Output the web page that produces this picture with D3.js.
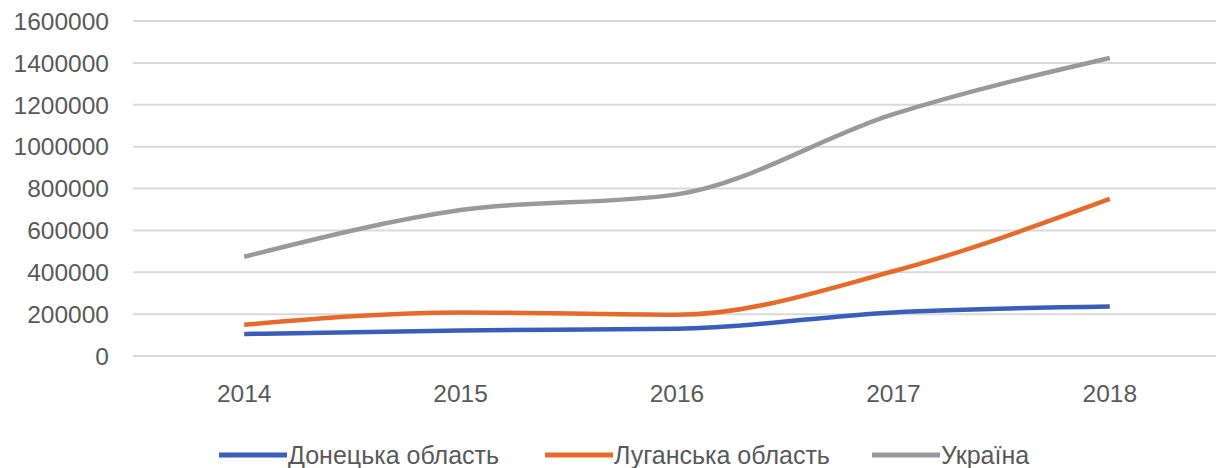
<!DOCTYPE html>
<html>
<head>
<meta charset="utf-8">
<script src="https://cdn.jsdelivr.net/npm/d3@7"></script>
<style>
  body { margin: 0; background: #fff; }
  text { font-family: "Liberation Sans", Arial, sans-serif; fill: #595959; }
</style>
</head>
<body>
<script>
const width = 1216;
const height = 468;

// data
const years = ['2014', '2015', '2016', '2017', '2018'];
const donetsk = [105000, 122000, 130000, 208000, 236000];
const luhansk = [149000, 208000, 197000, 405000, 750000];
const ukraine = [474000, 697000, 772000, 1155000, 1423000];
const yTicks = [0, 200000, 400000, 600000, 800000, 1000000, 1200000, 1400000, 1600000];

const series = [
  { name: 'Донецька область', values: donetsk, color: '#3a5ebc' },
  { name: 'Луганська область', values: luhansk, color: '#e86a2a' },
  { name: 'Україна', values: ukraine, color: '#999999' }
];

const svg = d3.select('body').append('svg')
  .attr('width', width)
  .attr('height', height);

const x = d3.scalePoint()
  .domain(years)
  .range([136, 1218])
  .padding(0.5);

const y = d3.scaleLinear()
  .domain([0, 1600000])
  .range([356, 21]);

// gridlines
svg.append('g')
  .selectAll('line')
  .data(yTicks)
  .enter().append('line')
    .attr('x1', 133)
    .attr('x2', width)
    .attr('y1', d => y(d))
    .attr('y2', d => y(d))
    .attr('stroke', '#d9d9d9')
    .attr('stroke-width', 2);

// y labels
svg.append('g')
  .selectAll('text')
  .data(yTicks)
  .enter().append('text')
    .attr('x', 109)
    .attr('y', d => y(d))
    .attr('dy', '0.36em')
    .attr('text-anchor', 'end')
    .style('font-size', '24.5px')
    .text(d => d);

// x labels
svg.append('g')
  .selectAll('text')
  .data(years)
  .enter().append('text')
    .attr('x', d => x(d))
    .attr('y', 402)
    .attr('text-anchor', 'middle')
    .style('font-size', '24.5px')
    .text(d => d);

const line = d3.line()
  .x((d, i) => x(years[i]))
  .y(d => y(d))
  .curve(d3.curveMonotoneX);

svg.append('g')
  .selectAll('path')
  .data(series)
  .enter().append('path')
    .attr('fill', 'none')
    .attr('stroke', d => d.color)
    .attr('stroke-width', 4.5)
    .attr('stroke-linejoin', 'round')
    .attr('d', d => line(d.values));

// legend
const legendX = [219, 545, 872];
const legend = svg.append('g')
  .selectAll('g')
  .data(series)
  .enter().append('g')
    .attr('transform', (d, i) => `translate(${legendX[i]}, 455)`);

legend.append('line')
  .attr('x1', 0)
  .attr('x2', 68)
  .attr('stroke', d => d.color)
  .attr('stroke-width', 5);

legend.append('text')
  .attr('x', 69)
  .attr('dy', '0.36em')
  .style('font-size', '25px')
  .text(d => d.name);
</script>
</body>
</html>
